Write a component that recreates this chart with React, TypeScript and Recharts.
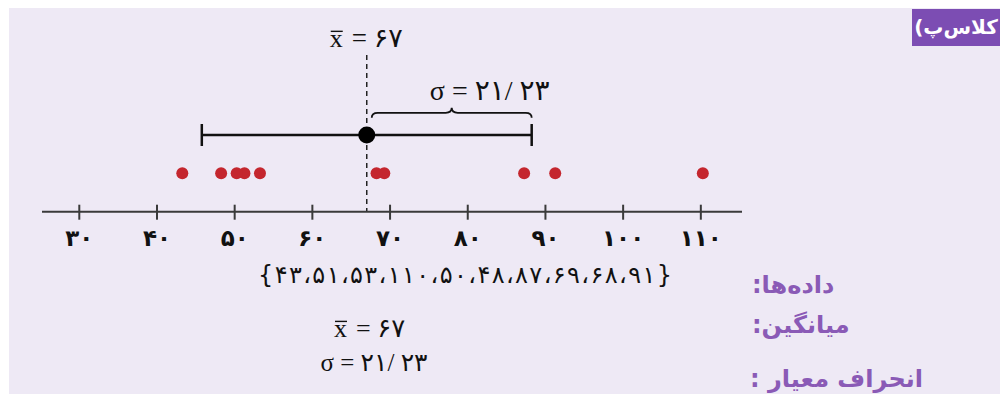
import { ScatterChart, Scatter, XAxis, YAxis, ReferenceLine, ErrorBar } from 'recharts'

// داده‌ها (data set, in the order written under the chart)
const dataValues = [43, 51, 53, 110, 50, 48, 87, 69, 68, 91]
const meanValue = 67
const sigmaValue = 21.23

const tickValues = [30, 40, 50, 60, 70, 80, 90, 100, 110]
const tickLabels = ['۳۰', '۴۰', '۵۰', '۶۰', '۷۰', '۸۰', '۹۰', '۱۰۰', '۱۱۰']

const meanText = '۶۷'
const sigmaText = '۲۱/ ۲۳'
const labelData = 'داده‌ها:'
const labelMean = 'میانگین:'
const labelSigma = 'انحراف معیار :'
const badgeText = 'کلاس‌پ)'

const FA_DIGITS = '۰۱۲۳۴۵۶۷۸۹'
const toFa = (n: number) => String(n).replace(/\d/g, (d) => FA_DIGITS[Number(d)])
const dataSetText = '{' + dataValues.map(toFa).join('،') + '}'

// vertical rows of the dot plot (y domain is 0..200)
const DOT_ROW = 38.4
const MEAN_ROW = 76.8
const BRACE_ROW = 94
const DASH_TOP = 157

const dotData = dataValues.map((v) => ({ x: v, y: DOT_ROW }))
const meanData = [{ x: meanValue, y: MEAN_ROW, err: sigmaValue }]

const SERIF = "'Liberation Serif', 'DejaVu Sans', serif"
const FA = "'DejaVu Sans', sans-serif"
const PURPLE = '#8a5ab6'

function AxisTick(props: any) {
  const { x, y, payload } = props
  const i = tickValues.indexOf(payload.value)
  return (
    <g>
      <line x1={x} y1={y - 7} x2={x} y2={y + 8} stroke="#3a3a3a" strokeWidth={2} />
      <text x={x} y={y + 34} textAnchor="middle" fontFamily={FA} fontWeight="bold" fontSize={23} fill="#111">
        {tickLabels[i]}
      </text>
    </g>
  )
}

function XBar({ x, y, size }: { x: number; y: number; size: number }) {
  // x with a bar over it, baseline at y, starting at x
  return (
    <g>
      <text x={x} y={y} fontFamily={SERIF} fontSize={size} fill="#111">x</text>
      <line x1={x + 1} y1={y - size * 0.6} x2={x + size * 0.5} y2={y - size * 0.6} stroke="#111" strokeWidth={1.4} />
    </g>
  )
}

function DashShape(p: any) {
  const top = Math.min(p.y1, p.y2)
  return (
    <g>
      <line x1={p.x1} y1={p.y1} x2={p.x2} y2={p.y2} stroke="#222" strokeWidth={1.5} strokeDasharray="5 4" />
      <XBar x={p.x1 - 37} y={top - 8} size={26} />
      <text x={p.x1 - 15} y={top - 8} fontFamily={SERIF} fontSize={27} fill="#111" xmlSpace="preserve">
        {'= ' + meanText}
      </text>
    </g>
  )
}

function BraceShape(p: any) {
  const a = Math.min(p.x1, p.x2) + 5
  const b = Math.max(p.x1, p.x2)
  const yb = p.y1
  const ym = yb - 5
  const yt = yb - 10
  const m = (a + b) / 2
  const d = `M${a},${yb} Q${a},${ym} ${a + 6},${ym} L${m - 6},${ym} Q${m},${ym} ${m},${yt} Q${m},${ym} ${m + 6},${ym} L${b - 6},${ym} Q${b},${ym} ${b},${yb}`
  return (
    <g>
      <path d={d} fill="none" stroke="#111" strokeWidth={1.8} />
      <text x={m + 38} y={yt - 8} textAnchor="middle" fontFamily={SERIF} fontSize={28} fill="#111" xmlSpace="preserve">
        {'σ = ' + sigmaText}
      </text>
    </g>
  )
}

export default function App() {
  return (
    <div style={{ position: 'absolute', left: 0, top: 0, width: 1000, height: 394, background: '#fff', overflow: 'hidden' }}>
      <div style={{ position: 'absolute', left: 9, top: 8, right: 0, bottom: 0, background: '#eee9f5' }} />

      <div style={{ position: 'absolute', left: 0, top: 0 }}>
        <ScatterChart width={1000} height={250} margin={{ top: 12, right: 258, bottom: 0, left: 42 }}>
          <XAxis
            type="number"
            dataKey="x"
            domain={[25.2, 115.3]}
            ticks={tickValues}
            interval={0}
            allowDataOverflow
            height={38.3}
            tickSize={0}
            tickMargin={0}
            tickLine={false}
            axisLine={{ stroke: '#3a3a3a', strokeWidth: 2 }}
            tick={AxisTick}
          />
          <YAxis type="number" dataKey="y" domain={[0, 200]} hide width={0} />
          <ReferenceLine
            segment={[{ x: meanValue, y: DASH_TOP }, { x: meanValue, y: 0 }]}
            shape={DashShape}
          />
          <ReferenceLine
            segment={[{ x: meanValue, y: BRACE_ROW }, { x: meanValue + sigmaValue, y: BRACE_ROW }]}
            shape={BraceShape}
          />
          <Scatter
            data={dotData}
            isAnimationActive={false}
            shape={(p: any) => <circle cx={p.cx + 2} cy={p.cy} r={6} fill="#c4262e" />}
          />
          <Scatter
            data={meanData}
            isAnimationActive={false}
            shape={(p: any) => <circle cx={p.cx} cy={p.cy} r={8.5} fill="#000" />}
          >
            <ErrorBar dataKey="err" direction="x" width={11} strokeWidth={2.5} stroke="#111" />
          </Scatter>
        </ScatterChart>
      </div>

      <svg width={1000} height={394} style={{ position: 'absolute', left: 0, top: 0 }}>
        <text x={258} y={283} direction="ltr" fontFamily={FA} fontSize={24} textLength={414} lengthAdjust="spacing" fill="#111">
          {dataSetText}
        </text>
        <XBar x={334} y={337} size={26} />
        <text x={356} y={337} fontFamily={SERIF} fontSize={26} fill="#111" xmlSpace="preserve">
          {'= ' + meanText}
        </text>
        <text x={374} y={371} textAnchor="middle" fontFamily={SERIF} fontSize={25} fill="#111" xmlSpace="preserve">
          {'σ = ' + sigmaText}
        </text>
      </svg>

      <div style={{ position: 'absolute', left: 752, top: 271, direction: 'rtl', fontFamily: FA, fontWeight: 'bold', fontSize: 24, color: PURPLE, whiteSpace: 'nowrap' }}>
        {labelData}
      </div>
      <div style={{ position: 'absolute', left: 752, top: 311, direction: 'rtl', fontFamily: FA, fontWeight: 'bold', fontSize: 24, color: PURPLE, whiteSpace: 'nowrap' }}>
        {labelMean}
      </div>
      <div style={{ position: 'absolute', left: 750, top: 365, direction: 'rtl', fontFamily: FA, fontWeight: 'bold', fontSize: 24, color: PURPLE, whiteSpace: 'nowrap' }}>
        {labelSigma}
      </div>

      <div style={{ position: 'absolute', left: 912, top: 9, width: 88, height: 37, background: '#7c4db3', color: '#fff', fontFamily: FA, fontWeight: 'bold', fontSize: 20, direction: 'rtl', lineHeight: '37px', textAlign: 'center', whiteSpace: 'nowrap' }}>
        {badgeText}
      </div>
    </div>
  )
}
